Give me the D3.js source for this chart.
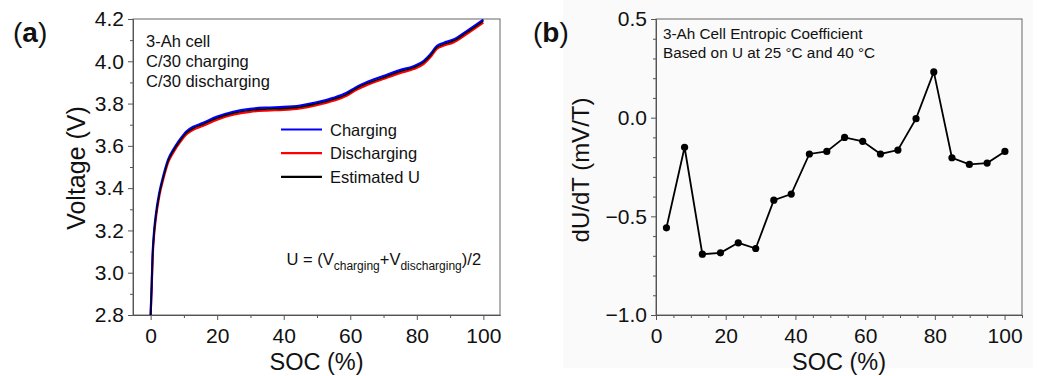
<!DOCTYPE html>
<html>
<head>
<meta charset="utf-8">
<script src="https://cdn.jsdelivr.net/npm/d3@7"></script>
<style>
  body { margin: 0; background: #fff; }
  svg { font-family: "Liberation Sans", Arial, sans-serif; }
  .axis path, .axis line { stroke: #555; }
  .axis text { fill: #111; font-size: 21px; }
</style>
</head>
<body>
<svg class="chart"></svg>
<script>
// Panel (a): voltage curves
var socA = [0, 0.3, 0.6, 1.0, 1.6, 2.6, 3.8, 5.3, 6.8, 8.8, 10.8, 12.8, 15.8, 19.8, 24.8, 29.9, 34.9, 39.9,
  44.9, 49.9, 54.9, 58.9, 61.9, 64.9, 69.9, 74.9, 79, 82, 84, 86, 88, 91, 95, 100];
var vCharging = [2.80, 2.94, 3.09, 3.19, 3.28, 3.378, 3.458, 3.537, 3.582, 3.630, 3.669, 3.690, 3.709, 3.737,
  3.761, 3.775, 3.781, 3.784, 3.791, 3.806, 3.827, 3.851, 3.879, 3.901, 3.930, 3.958, 3.977, 4.001, 4.032,
  4.072, 4.087, 4.103, 4.143, 4.197];
var vDischarging = [2.80, 2.92, 3.07, 3.17, 3.26, 3.362, 3.442, 3.523, 3.568, 3.616, 3.655, 3.676, 3.695, 3.723,
  3.747, 3.761, 3.767, 3.770, 3.777, 3.792, 3.813, 3.837, 3.865, 3.887, 3.916, 3.944, 3.963, 3.987, 4.018,
  4.058, 4.073, 4.089, 4.129, 4.183];
var vEstimated = [2.80, 2.93, 3.08, 3.18, 3.27, 3.37, 3.45, 3.53, 3.575, 3.623, 3.662, 3.683, 3.702, 3.730,
  3.754, 3.768, 3.774, 3.777, 3.784, 3.799, 3.820, 3.844, 3.872, 3.894, 3.923, 3.951, 3.970, 3.994, 4.025,
  4.065, 4.080, 4.096, 4.136, 4.190];
var seriesNames = ["Charging", "Discharging", "Estimated U"];
var seriesColors = ["#0000ff", "#ff0000", "#000000"];
var ticksA_x = [0, 20, 40, 60, 80, 100];
var ticksA_y = [2.8, 3.0, 3.2, 3.4, 3.6, 3.8, 4.0, 4.2];

// Panel (b): entropic coefficient
var socB = [3, 8.2, 13.3, 18.5, 23.6, 28.6, 33.8, 38.8, 44.0, 49.0, 54.1, 59.3, 64.4, 69.4, 74.6, 79.7,
  84.9, 89.9, 95.0, 100.1];
var dUdT = [-0.558, -0.150, -0.692, -0.685, -0.634, -0.663, -0.418, -0.387, -0.184, -0.171, -0.100, -0.120,
  -0.184, -0.164, -0.005, 0.232, -0.203, -0.237, -0.230, -0.171];
var ticksB_x = [0, 20, 40, 60, 80, 100];
var ticksB_y = [-1.0, -0.5, 0.0, 0.5];

var svg = d3.select(".chart")
    .attr("width", 1038)
    .attr("height", 376);

// Light background behind panel (b), as in the figure
svg.append("rect")
    .attr("x", 563).attr("y", 0)
    .attr("width", 470).attr("height", 368)
    .attr("fill", "#fafafa");

function drawFrame(g, w, h, xScale, yScale, xt, yt, xMinor, yMinor, yFmt) {
  g.append("rect")
      .attr("width", w).attr("height", h)
      .attr("fill", "none")
      .attr("stroke", "#666")
      .attr("stroke-width", 1);

  g.append("g")
      .attr("class", "axis")
      .attr("transform", "translate(0," + h + ")")
      .call(d3.axisBottom(xScale).tickValues(xMinor).tickSize(3).tickSizeOuter(0).tickFormat(""));
  g.append("g")
      .attr("class", "axis")
      .attr("transform", "translate(0," + h + ")")
      .call(d3.axisBottom(xScale).tickValues(xt).tickSize(5).tickSizeOuter(0).tickPadding(8));

  g.append("g")
      .attr("class", "axis")
      .call(d3.axisLeft(yScale).tickValues(yMinor).tickSize(3).tickSizeOuter(0).tickFormat(""));
  g.append("g")
      .attr("class", "axis")
      .call(d3.axisLeft(yScale).tickValues(yt).tickSize(5).tickSizeOuter(0).tickPadding(4)
        .tickFormat(yFmt));
}

// ---------- Panel (a) ----------
var mA = {left: 133, top: 19, width: 367, height: 296};
var xA = d3.scaleLinear().domain([-5.3, 105]).range([0, mA.width]);
var yA = d3.scaleLinear().domain([2.8, 4.2]).range([mA.height, 0]);
var gA = svg.append("g").attr("transform", "translate(" + mA.left + "," + mA.top + ")");

gA.append("clipPath").attr("id", "clipA")
  .append("rect").attr("width", mA.width).attr("height", mA.height);

drawFrame(gA, mA.width, mA.height, xA, yA, ticksA_x, ticksA_y,
  [10, 30, 50, 70, 90], d3.range(2.9, 4.2, 0.2), d3.format(".1f"));

var lineA = d3.line()
    .x(function(d) { return xA(d[0]); })
    .y(function(d) { return yA(d[1]); })
    .curve(d3.curveMonotoneX);

var seriesA = [vCharging, vDischarging, vEstimated];
var drawOrder = [1, 0, 2];
drawOrder.forEach(function(i) {
  gA.append("path")
      .attr("clip-path", "url(#clipA)")
      .attr("d", lineA(socA.map(function(s, k) { return [s, seriesA[i][k]]; })))
      .attr("fill", "none")
      .attr("stroke", seriesColors[i])
      .attr("stroke-width", i == 2 ? 1.4 : 2.2);
});

// Notes
["3-Ah cell", "C/30 charging", "C/30 discharging"].forEach(function(t, i) {
  gA.append("text")
      .attr("x", 13).attr("y", 27.5 + i * 20)
      .attr("font-size", "16.5px").attr("fill", "#111")
      .text(t);
});

// Legend
seriesNames.forEach(function(name, i) {
  var ly = 110.5 + i * 23.7;
  gA.append("line")
      .attr("x1", 148).attr("x2", 189)
      .attr("y1", ly).attr("y2", ly)
      .attr("stroke", seriesColors[i])
      .attr("stroke-width", 2.2);
  gA.append("text")
      .attr("x", 197).attr("y", ly + 6)
      .attr("font-size", "16.5px").attr("fill", "#111")
      .text(name);
});

// Formula
var f = gA.append("text")
    .attr("x", 153.5).attr("y", 246)
    .attr("font-size", "16.5px").attr("fill", "#111");
f.append("tspan").text("U = (V");
f.append("tspan").attr("font-size", "12px").attr("dy", 5).text("charging");
f.append("tspan").attr("dy", -5).text("+V");
f.append("tspan").attr("font-size", "12px").attr("dy", 5).text("discharging");
f.append("tspan").attr("dy", -5).text(")/2");

// Axis titles
svg.append("text")
    .attr("x", mA.left + mA.width / 2).attr("y", 370)
    .attr("text-anchor", "middle")
    .attr("font-size", "23.5px").attr("fill", "#111")
    .text("SOC (%)");
svg.append("text")
    .attr("transform", "translate(85," + (mA.top + mA.height / 2 + 1) + ") rotate(-90)")
    .attr("text-anchor", "middle")
    .attr("font-size", "25px").attr("fill", "#111")
    .text("Voltage (V)");

// ---------- Panel (b) ----------
var mB = {left: 656, top: 19, width: 366, height: 296};
var xB = d3.scaleLinear().domain([0, 105]).range([0, mB.width]);
var yB = d3.scaleLinear().domain([-1.0, 0.5]).range([mB.height, 0]);
var gB = svg.append("g").attr("transform", "translate(" + mB.left + "," + mB.top + ")");

drawFrame(gB, mB.width, mB.height, xB, yB, ticksB_x, ticksB_y,
  [5, 10, 15, 25, 30, 35, 45, 50, 55, 65, 70, 75, 85, 90, 95, 105],
  [-0.9, -0.8, -0.7, -0.6, -0.4, -0.3, -0.2, -0.1, 0.1, 0.2, 0.3, 0.4],
  function(d) { return d3.format(".1f")(d).replace("-", "\u2212"); });

var lineB = d3.line()
    .x(function(d, i) { return xB(socB[i]); })
    .y(function(d) { return yB(d); });

gB.append("path")
    .attr("d", lineB(dUdT))
    .attr("fill", "none")
    .attr("stroke", "#000")
    .attr("stroke-width", 1.8);

gB.selectAll(".dot")
    .data(dUdT)
    .enter().append("circle")
    .attr("class", "dot")
    .attr("cx", function(d, i) { return xB(socB[i]); })
    .attr("cy", function(d) { return yB(d); })
    .attr("r", 3.6)
    .attr("fill", "#000");

["3-Ah Cell Entropic Coefficient", "Based on U at 25 \u00B0C and 40 \u00B0C"].forEach(function(t, i) {
  gB.append("text")
      .attr("x", 7).attr("y", 20 + i * 19)
      .attr("font-size", "15.3px").attr("fill", "#111")
      .text(t);
});

svg.append("text")
    .attr("x", mB.left + mB.width / 2).attr("y", 370)
    .attr("text-anchor", "middle")
    .attr("font-size", "23.5px").attr("fill", "#111")
    .text("SOC (%)");
svg.append("text")
    .attr("transform", "translate(589," + (mB.top + mB.height / 2 + 3) + ") rotate(-90)")
    .attr("text-anchor", "middle")
    .attr("font-size", "24px").attr("fill", "#111")
    .text("dU/dT (mV/T)");

// Panel labels
[["a", 13], ["b", 533]].forEach(function(p) {
  var t = svg.append("text")
      .attr("x", p[1]).attr("y", 42)
      .attr("font-size", "28px").attr("fill", "#111");
  t.append("tspan").text("(");
  t.append("tspan").attr("font-weight", "bold").text(p[0]);
  t.append("tspan").text(")");
});
</script>
</body>
</html>
